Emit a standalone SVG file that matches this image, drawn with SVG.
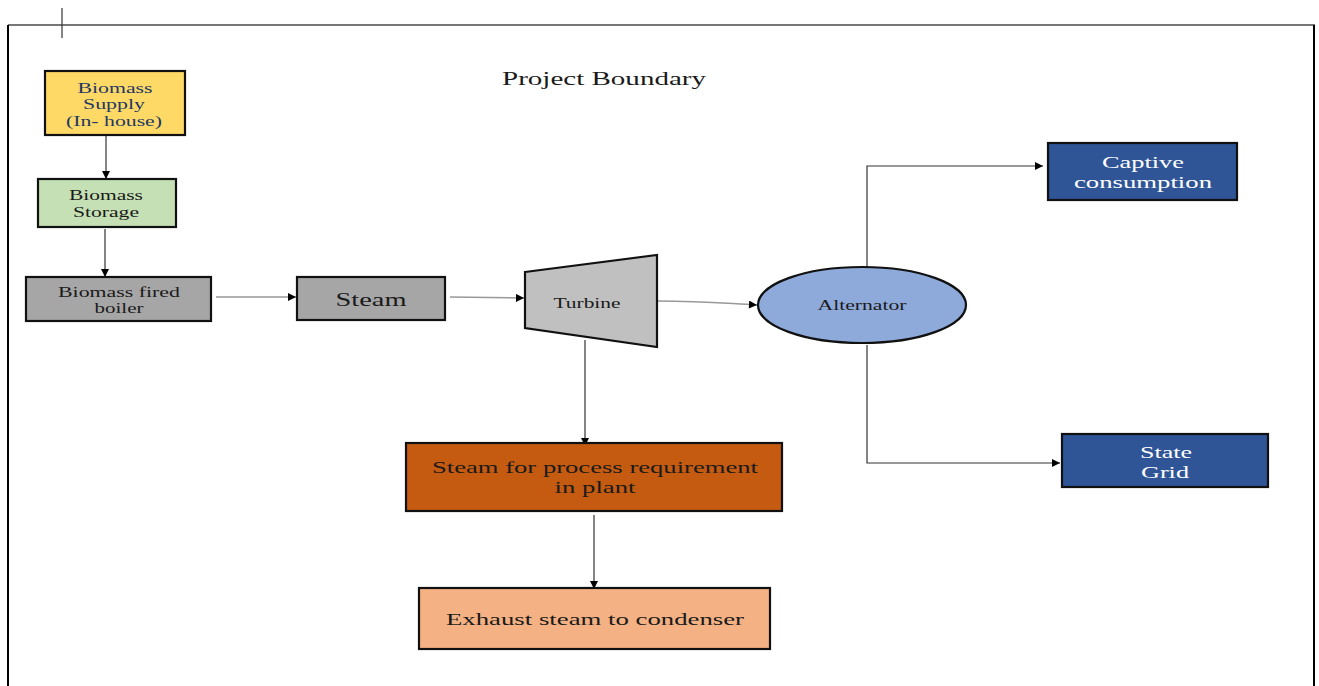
<svg xmlns="http://www.w3.org/2000/svg" width="1319" height="686" viewBox="0 0 1319 686" font-family="'Liberation Serif', 'DejaVu Serif', serif">
<style>
text{font-family:'Liberation Serif','DejaVu Serif',serif;text-anchor:middle;font-weight:normal;}
.box{stroke:#111;stroke-width:2.2;}
.t14{font-size:15px;fill:#1a1a1a;}
.tw{font-size:17px;fill:#fff;}
.tnavy{font-size:15px;fill:#1f3864;}
.conn{fill:none;stroke:#333;stroke-width:1.2;}
.connl{fill:none;stroke:#999;stroke-width:1.5;}
</style>
<defs>
<marker id="ah" viewBox="0 0 10 10" refX="10" refY="5" markerWidth="10" markerHeight="8" markerUnits="userSpaceOnUse" orient="auto">
<path d="M0,0 L10,5 L0,10 z" fill="#000"/>
</marker>
</defs>
<rect width="1319" height="686" fill="#fff"/>
<g id="boundary">
<line x1="8" y1="25" x2="1315" y2="25" stroke="#777" stroke-width="2"/>
<line x1="8" y1="25" x2="8" y2="686" stroke="#000" stroke-width="2"/>
<line x1="1314" y1="25" x2="1314" y2="686" stroke="#000" stroke-width="2"/>
<line x1="62" y1="8" x2="62" y2="38" stroke="#333" stroke-width="1.2"/>
<text x="604" y="85" style="font-size:19px;fill:#1a1a1a" textLength="204" lengthAdjust="spacingAndGlyphs">Project Boundary</text>
</g>
<g id="connectors">
<line class="conn" x1="106" y1="136" x2="106" y2="179" marker-end="url(#ah)"/>
<line class="conn" x1="105" y1="229" x2="105" y2="277" marker-end="url(#ah)"/>
<line class="connl" x1="216" y1="297" x2="296" y2="297" marker-end="url(#ah)"/>
<line class="connl" x1="450" y1="297" x2="524" y2="298" marker-end="url(#ah)"/>
<path class="connl" d="M658,301 C700,301 720,303 757,305" marker-end="url(#ah)"/>
<polyline class="conn" points="867,267 867,166 1043,166" marker-end="url(#ah)"/>
<polyline class="conn" points="867,345 867,463 1060,463" marker-end="url(#ah)"/>
<line class="conn" x1="585" y1="340" x2="585" y2="446" marker-end="url(#ah)"/>
<line class="conn" x1="594" y1="515" x2="594" y2="589" marker-end="url(#ah)"/>
</g>
<g id="biomass-supply">
<rect class="box" x="45" y="71" width="140" height="64" fill="#ffd966"/>
<text class="tnavy" x="115" y="93" textLength="75" lengthAdjust="spacingAndGlyphs">Biomass</text>
<text class="tnavy" x="114" y="109" textLength="62" lengthAdjust="spacingAndGlyphs">Supply</text>
<text class="tnavy" x="114" y="126" textLength="96" lengthAdjust="spacingAndGlyphs">(In- house)</text>
</g>
<g id="biomass-storage">
<rect class="box" x="38" y="179" width="138" height="48" fill="#c5e0b4"/>
<text class="t14" x="106" y="200" textLength="74" lengthAdjust="spacingAndGlyphs">Biomass</text>
<text class="t14" x="106" y="217" textLength="66" lengthAdjust="spacingAndGlyphs">Storage</text>
</g>
<g id="boiler">
<rect class="box" x="26" y="277" width="185" height="44" fill="#a6a6a6"/>
<text class="t14" x="119" y="297" textLength="122" lengthAdjust="spacingAndGlyphs">Biomass fired</text>
<text class="t14" x="119" y="313" textLength="49" lengthAdjust="spacingAndGlyphs">boiler</text>
</g>
<g id="steam">
<rect class="box" x="297" y="277" width="148" height="43" fill="#a6a6a6"/>
<text x="371" y="306" style="font-size:19px;fill:#1a1a1a" textLength="71" lengthAdjust="spacingAndGlyphs">Steam</text>
</g>
<g id="turbine">
<polygon class="box" points="525,272 657,255 657,347 525,328" fill="#c0c0c0"/>
<text class="t14" x="587" y="308" textLength="67" lengthAdjust="spacingAndGlyphs">Turbine</text>
</g>
<g id="alternator">
<ellipse class="box" cx="862" cy="305" rx="104" ry="38" fill="#8eaadb"/>
<text class="t14" x="862" y="310" textLength="89" lengthAdjust="spacingAndGlyphs">Alternator</text>
</g>
<g id="captive">
<rect class="box" x="1048" y="143" width="189" height="57" fill="#2f5597"/>
<text class="tw" x="1143" y="168" textLength="82" lengthAdjust="spacingAndGlyphs">Captive</text>
<text class="tw" x="1143" y="188" textLength="138" lengthAdjust="spacingAndGlyphs">consumption</text>
</g>
<g id="state-grid">
<rect class="box" x="1062" y="434" width="206" height="53" fill="#2f5597"/>
<text class="tw" x="1166" y="458" textLength="52" lengthAdjust="spacingAndGlyphs">State</text>
<text class="tw" x="1165" y="478" textLength="48" lengthAdjust="spacingAndGlyphs">Grid</text>
</g>
<g id="process-steam">
<rect class="box" x="406" y="443" width="376" height="68" fill="#c55a11"/>
<text x="595" y="473" style="font-size:17px;fill:#1a1a1a" textLength="326" lengthAdjust="spacingAndGlyphs">Steam for process requirement</text>
<text x="595" y="493" style="font-size:17px;fill:#1a1a1a" textLength="81" lengthAdjust="spacingAndGlyphs">in plant</text>
</g>
<g id="exhaust">
<rect class="box" x="419" y="588" width="351" height="61" fill="#f4b183"/>
<text x="595" y="625" style="font-size:17px;fill:#1a1a1a" textLength="298" lengthAdjust="spacingAndGlyphs">Exhaust steam to condenser</text>
</g>
</svg>
